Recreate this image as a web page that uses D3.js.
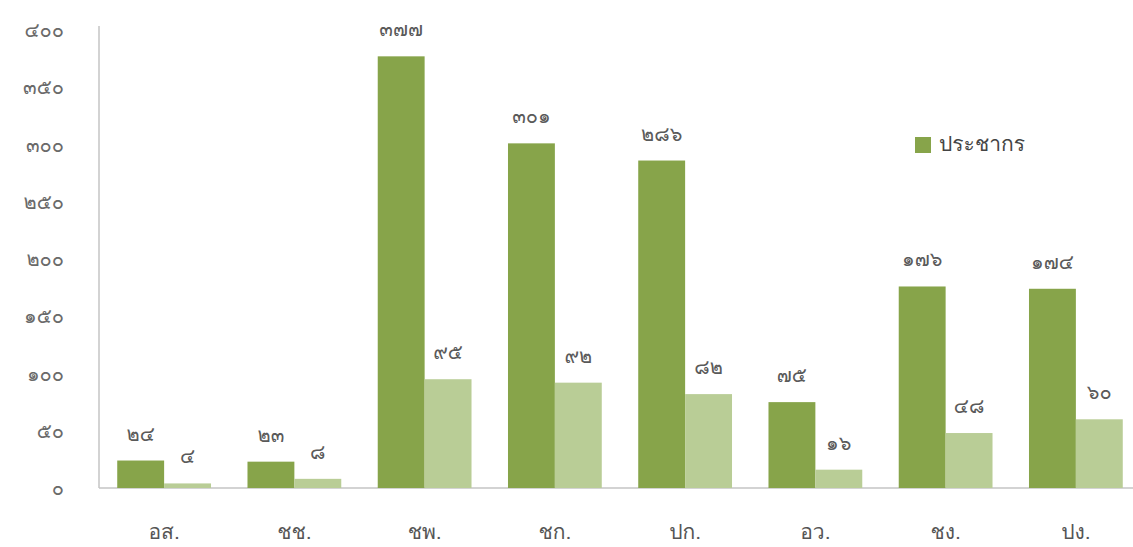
<!DOCTYPE html>
<html>
<head>
<meta charset="utf-8">
<script src="https://cdn.jsdelivr.net/npm/d3@7"></script>
<style>
  html, body { margin: 0; padding: 0; background: #fff; }
  svg { display: block; }
  text { font-family: "Loma", "Garuda", "Kinnari", "Norasi", "Waree", "Noto Sans Thai", "Noto Sans", "Liberation Sans", sans-serif; font-weight: normal; }
</style>
</head>
<body>
<svg id="chart" width="1133" height="547"></svg>
<script>
// Districts and their counts
const categories = ["อส.", "ชช.", "ชพ.", "ชก.", "ปก.", "อว.", "ชง.", "ปง."];
const population = [24, 23, 377, 301, 286, 75, 176, 174];
const secondSeries = [4, 8, 95, 92, 82, 16, 48, 60];
const yTicks = [0, 50, 100, 150, 200, 250, 300, 350, 400];
const legendLabel = "ประชากร";

// Render numbers with Thai digits
const thaiDigits = "๐๑๒๓๔๕๖๗๘๙";
const toThai = n => String(n).replace(/[0-9]/g, d => thaiDigits[+d]);

const svg = d3.select("#chart");
const left = 99, baseY = 488, topY = 30;

const x = d3.scaleBand().domain(categories).range([left, 1141]).paddingInner(0.28).paddingOuter(0.14);
const inner = d3.scaleBand().domain(["a", "b"]).range([0, x.bandwidth()]);
const y = d3.scaleLinear().domain([0, 400]).range([baseY, topY]);

const darkGreen = "#87a44a";
const lightGreen = "#b9cd96";

// Axis lines
svg.append("line").attr("x1", left).attr("x2", left).attr("y1", 26).attr("y2", baseY)
  .attr("stroke", "#c4c4c4").attr("stroke-width", 1.5);
svg.append("line").attr("x1", left).attr("x2", 1133).attr("y1", baseY).attr("y2", baseY)
  .attr("stroke", "#c4c4c4").attr("stroke-width", 1.5);

// Y tick labels
svg.append("g").selectAll("text").data(yTicks).join("text")
  .attr("x", 64).attr("y", d => y(d) + 2)
  .attr("text-anchor", "end").attr("dominant-baseline", "middle")
  .attr("font-size", 20).attr("fill", "#6a6a6a")
  .text(d => toThai(d));

// Category labels
svg.append("g").selectAll("text").data(categories).join("text")
  .attr("x", d => x(d) + x.bandwidth() / 2).attr("y", 534)
  .attr("text-anchor", "middle").attr("dominant-baseline", "middle")
  .attr("font-size", 21).attr("fill", "#555")
  .text(d => d);

const rows = categories.map((c, i) => ({ c, a: population[i], b: secondSeries[i] }));

const groups = svg.append("g").selectAll("g").data(rows).join("g")
  .attr("transform", d => `translate(${x(d.c)},0)`);

[["a", darkGreen], ["b", lightGreen]].forEach(([key, color]) => {
  groups.append("rect")
    .attr("x", inner(key)).attr("width", inner.bandwidth())
    .attr("y", d => y(d[key])).attr("height", d => baseY - y(d[key]))
    .attr("fill", color);
  groups.append("text")
    .attr("x", inner(key) + inner.bandwidth() / 2)
    .attr("y", d => y(d[key]) - 20)
    .attr("text-anchor", "middle")
    .attr("font-size", 20).attr("fill", "#5a5a5a")
    .text(d => toThai(d[key]));
});

// Legend
const legend = svg.append("g").attr("transform", "translate(915,137)");
legend.append("rect").attr("width", 16).attr("height", 16).attr("fill", darkGreen);
legend.append("text").attr("x", 24).attr("y", 9).attr("dominant-baseline", "middle")
  .attr("font-size", 21).attr("fill", "#444").text(legendLabel);
</script>
</body>
</html>
